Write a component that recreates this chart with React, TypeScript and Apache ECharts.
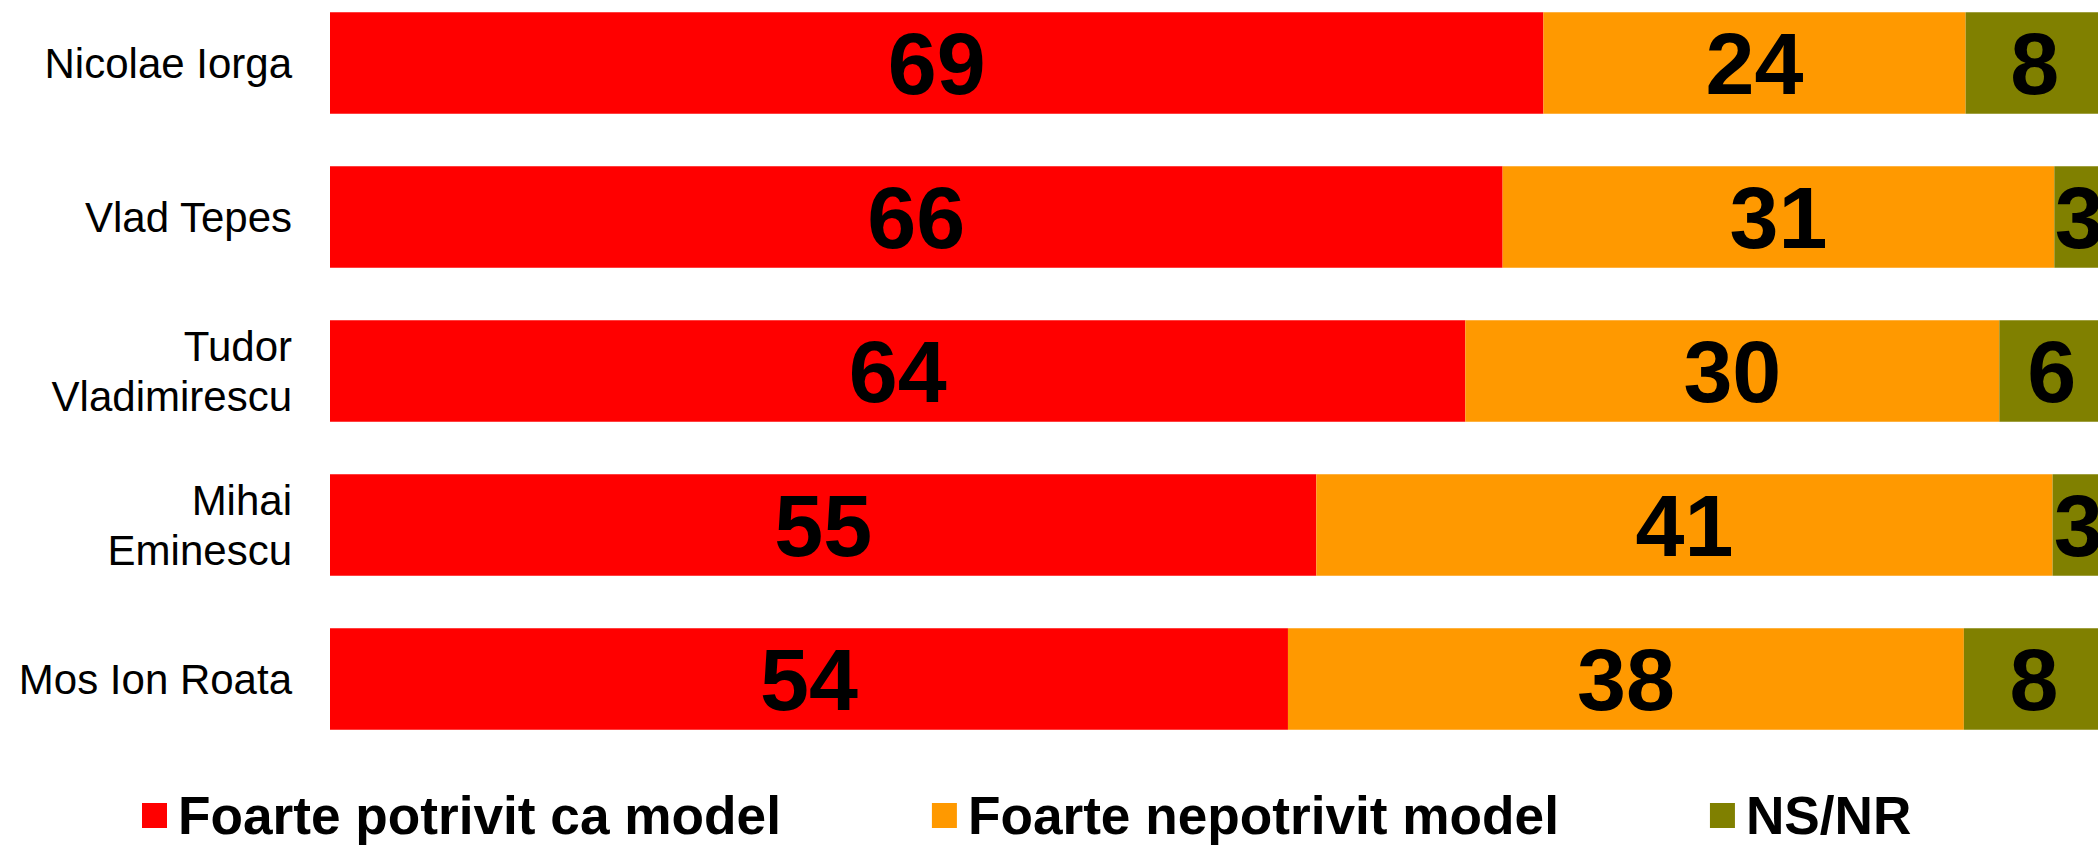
import React, { useEffect, useRef } from "react";
import * as echarts from "echarts";

const categories = ["Nicolae Iorga", "Vlad Tepes", "Tudor\nVladimirescu", "Mihai\nEminescu", "Mos Ion Roata"];
const seriesNames = ["Foarte potrivit ca model", "Foarte nepotrivit model", "NS/NR"];
// bar lengths
const potrivit = [68.4, 66.1, 64.0, 55.6, 54.0];
const nepotrivit = [23.8, 31.1, 30.1, 41.5, 38.1];
const nsnr = [7.8, 2.8, 5.9, 2.9, 7.9];
// printed (rounded) labels
const potrivitLabels = [69, 66, 64, 55, 54];
const nepotrivitLabels = [24, 31, 30, 41, 38];
const nsnrLabels = [8, 3, 6, 3, 8];
const colors = ["#FF0000", "#FF9900", "#808000"];

export default function App() {
  const ref = useRef<HTMLDivElement>(null);
  useEffect(() => {
    document.body.style.margin = "0";
    const chart = echarts.init(ref.current!, undefined, { renderer: "svg" });
    const font = "'Liberation Sans', Arial, sans-serif";
    const values = [potrivit, nepotrivit, nsnr];
    const labels = [potrivitLabels, nepotrivitLabels, nsnrLabels];
    chart.setOption({
      animation: false,
      grid: { left: 330, right: -6, top: -14, height: 770, outerBoundsMode: "none", containLabel: false },
      xAxis: { type: "value", min: 0, max: 100, show: false },
      yAxis: {
        type: "category",
        data: categories,
        inverse: true,
        axisLine: { show: false },
        axisTick: { show: false },
        axisLabel: { color: "#000", fontSize: 42, fontFamily: font, margin: 38, lineHeight: 50, align: "right" },
      },
      legend: {
        bottom: 0,
        left: 137,
        itemGap: 151,
        itemWidth: 25,
        itemHeight: 25,
        icon: "rect",
        textStyle: { color: "#000", fontSize: 53.2, fontWeight: "bold", fontFamily: font, padding: [0, 0, 0, 6] },
        data: seriesNames,
      },
      series: seriesNames.map((name, i) => ({
        name,
        type: "bar",
        stack: "total",
        data: values[i],
        barCategoryGap: "34%",
        itemStyle: { color: colors[i] },
        label: {
          show: true,
          position: "inside",
          color: "#000",
          fontSize: 88,
          fontWeight: "bold",
          fontFamily: font,
          formatter: (p: any) => String(labels[i][p.dataIndex]),
        },
      })),
    });
    return () => chart.dispose();
  }, []);
  return <div ref={ref} style={{ width: 2098, height: 847 }} />;
}
